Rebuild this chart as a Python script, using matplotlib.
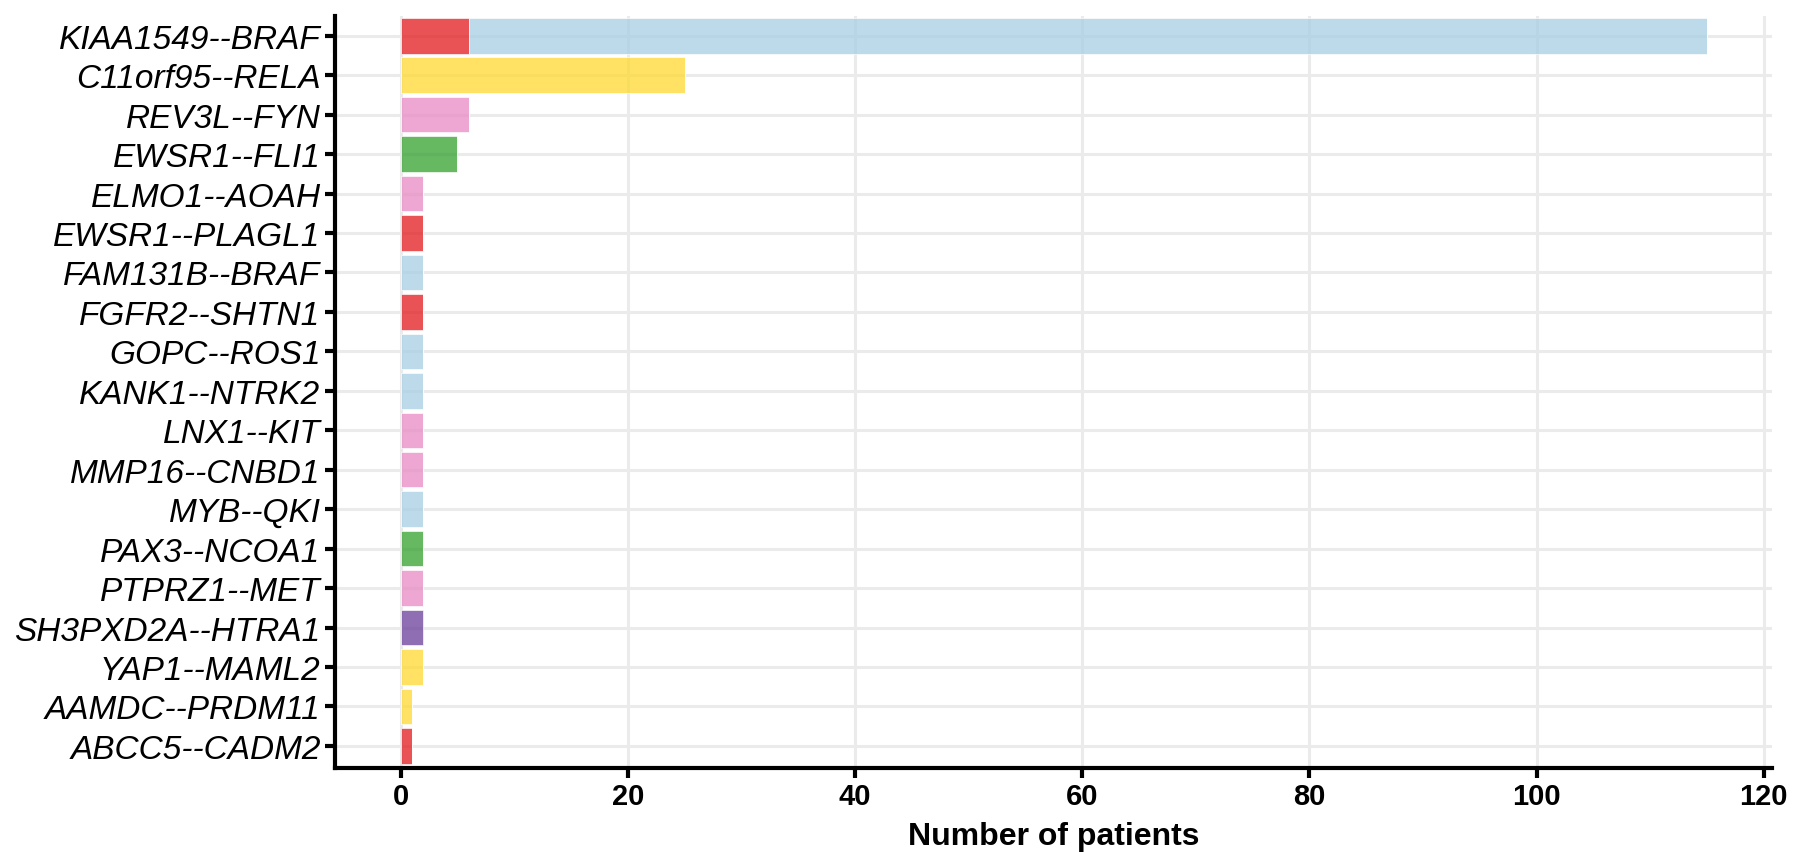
import matplotlib
matplotlib.use("Agg")
import matplotlib.pyplot as plt
import numpy as np

# --- datos ---
fusions = [
    "KIAA1549--BRAF", "C11orf95--RELA", "REV3L--FYN", "EWSR1--FLI1",
    "ELMO1--AOAH", "EWSR1--PLAGL1", "FAM131B--BRAF", "FGFR2--SHTN1",
    "GOPC--ROS1", "KANK1--NTRK2", "LNX1--KIT", "MMP16--CNBD1",
    "MYB--QKI", "PAX3--NCOA1", "PTPRZ1--MET", "SH3PXD2A--HTRA1",
    "YAP1--MAML2", "AAMDC--PRDM11", "ABCC5--CADM2",
]

# patient counts per group (one value per fusion, top to bottom)
red =       [6, 0, 0, 0, 0, 2, 0, 2, 0, 0, 0, 0, 0, 0, 0, 0, 0, 0, 1]
lightblue = [109, 0, 0, 0, 0, 0, 2, 0, 2, 2, 0, 0, 2, 0, 0, 0, 0, 0, 0]
yellow =    [0, 25, 0, 0, 0, 0, 0, 0, 0, 0, 0, 0, 0, 0, 0, 0, 2, 1, 0]
pink =      [0, 0, 6, 0, 2, 0, 0, 0, 0, 0, 2, 2, 0, 0, 2, 0, 0, 0, 0]
green =     [0, 0, 0, 5, 0, 0, 0, 0, 0, 0, 0, 0, 0, 2, 0, 0, 0, 0, 0]
purple =    [0, 0, 0, 0, 0, 0, 0, 0, 0, 0, 0, 0, 0, 0, 0, 2, 0, 0, 0]

series = [
    (red, "#E31A1C"),
    (lightblue, "#A6CEE3"),
    (yellow, "#FFD92F"),
    (pink, "#E78AC3"),
    (green, "#33A02C"),
    (purple, "#6A3D9A"),
]

# --- grafica ---
fig = plt.figure(figsize=(17.93, 8.53), dpi=100)
ax = fig.add_axes([0.187, 0.099, 0.8015, 0.881])

y = np.arange(len(fusions))
left = np.zeros(len(fusions))
for vals, col in series:
    vals = np.array(vals, dtype=float)
    ax.barh(y, vals, left=left, height=0.9, color=col, alpha=0.75,
            edgecolor="white", linewidth=0.6, zorder=3)
    left += vals

total_max = left.max()
ax.set_xlim(-0.05 * total_max, total_max * 1.05)
ax.set_ylim(len(fusions) - 0.45, -0.5)
ax.set_yticks(y)
ax.set_yticklabels(fusions, fontsize=24, fontstyle="italic", family="Liberation Sans")
ax.set_xticks([0, 20, 40, 60, 80, 100, 120])
ax.set_xticklabels(["0", "20", "40", "60", "80", "100", "120"], fontsize=21,
                   fontweight="bold", family="Liberation Sans")
ax.set_xlabel("Number of patients", fontsize=23, fontweight="bold",
              family="Liberation Sans", labelpad=8)

ax.grid(True, color="#EBEBEB", linewidth=2.2, zorder=0)
ax.set_axisbelow(True)
for s in ["top", "right"]:
    ax.spines[s].set_visible(False)
for s in ["left", "bottom"]:
    ax.spines[s].set_linewidth(3)
ax.tick_params(axis="both", width=3, length=7, color="black", labelcolor="black")

fig.savefig("out.png", dpi=100)
